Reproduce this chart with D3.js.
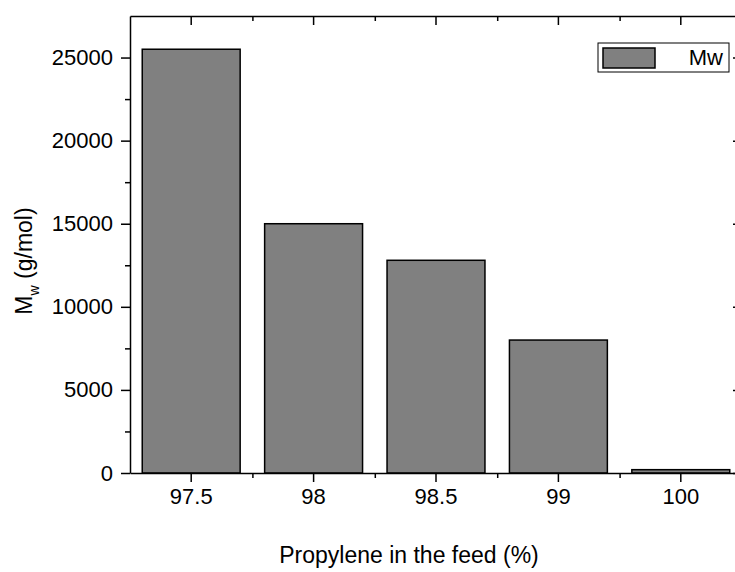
<!DOCTYPE html>
<html>
<head>
<meta charset="utf-8">
<script src="https://cdn.jsdelivr.net/npm/d3@7"></script>
<style>
  body { margin: 0; background: #fff; }
  svg { display: block; font-family: "Liberation Sans", Arial, sans-serif; }
  .axis path, .axis line { stroke: #000; stroke-width: 1.5; }
  .axis text { fill: #000; font-size: 22px; font-family: "Liberation Sans", Arial, sans-serif; }
</style>
</head>
<body>
<svg id="canvas" width="735" height="572"></svg>
<script>
// values
let categories = ['97.5', '98', '98.5', '99', '100'];
let mwValues = [25500, 15000, 12800, 8000, 200];
let yTicks = [0, 5000, 10000, 15000, 20000, 25000];
let yMinorTicks = [2500, 7500, 12500, 17500, 22500];
let seriesName = 'Mw';

let canvas = d3.select('#canvas');

let plotLeft = 130, plotRight = 742, plotTop = 16, plotBottom = 473;

let xScale = d3.scaleBand()
  .domain(categories)
  .range([plotLeft, plotRight])
  .paddingInner(0.2)
  .paddingOuter(0.1);

// index scale, used for the minor ticks between the groups
let xIndex = d3.scaleLinear()
  .domain([0, categories.length])
  .range([plotLeft, plotRight]);

let yScale = d3.scaleLinear()
  .domain([0, 27500])
  .range([plotBottom, plotTop]);

// bars
canvas.selectAll('rect.bar')
  .data(mwValues)
  .enter()
  .append('rect')
  .attr('class', 'bar')
  .attr('x', (d, i) => xScale(categories[i]))
  .attr('y', (d) => yScale(d))
  .attr('width', xScale.bandwidth())
  .attr('height', (d) => yScale(0) - yScale(d))
  .attr('fill', '#808080')
  .attr('stroke', '#000')
  .attr('stroke-width', 1.5);

let minorIdx = d3.range(1, categories.length);

// bottom axis
canvas.append('g')
  .attr('class', 'axis')
  .attr('transform', 'translate(0,' + plotBottom + ')')
  .call(d3.axisBottom(xScale).tickSizeInner(9).tickSizeOuter(0).tickPadding(6));
canvas.append('g')
  .attr('class', 'axis')
  .attr('transform', 'translate(0,' + plotBottom + ')')
  .call(d3.axisBottom(xIndex).tickValues(minorIdx).tickFormat('').tickSizeInner(5).tickSizeOuter(0))
  .call(g => g.select('.domain').remove());

// top axis
canvas.append('g')
  .attr('class', 'axis')
  .attr('transform', 'translate(0,' + plotTop + ')')
  .call(d3.axisTop(xScale).tickFormat('').tickSizeInner(-9).tickSizeOuter(0));
canvas.append('g')
  .attr('class', 'axis')
  .attr('transform', 'translate(0,' + plotTop + ')')
  .call(d3.axisTop(xIndex).tickValues(minorIdx).tickFormat('').tickSizeInner(-5).tickSizeOuter(0))
  .call(g => g.select('.domain').remove());

// left axis
canvas.append('g')
  .attr('class', 'axis')
  .attr('transform', 'translate(' + plotLeft + ',0)')
  .call(d3.axisLeft(yScale).tickValues(yTicks).tickFormat(d3.format('d')).tickSizeInner(9).tickSizeOuter(0).tickPadding(8));
canvas.append('g')
  .attr('class', 'axis')
  .attr('transform', 'translate(' + plotLeft + ',0)')
  .call(d3.axisLeft(yScale).tickValues(yMinorTicks).tickFormat('').tickSizeInner(5).tickSizeOuter(0))
  .call(g => g.select('.domain').remove());

// right axis
canvas.append('g')
  .attr('class', 'axis')
  .attr('transform', 'translate(' + plotRight + ',0)')
  .call(d3.axisRight(yScale).tickValues(yTicks).tickFormat('').tickSizeInner(-9).tickSizeOuter(0));
canvas.append('g')
  .attr('class', 'axis')
  .attr('transform', 'translate(' + plotRight + ',0)')
  .call(d3.axisRight(yScale).tickValues(yMinorTicks).tickFormat('').tickSizeInner(-5).tickSizeOuter(0))
  .call(g => g.select('.domain').remove());

// axis titles
canvas.append('text')
  .attr('x', 409)
  .attr('y', 563)
  .attr('text-anchor', 'middle')
  .attr('font-size', 23)
  .text('Propylene in the feed (%)');

let yTitle = canvas.append('text')
  .attr('transform', 'translate(32,261) rotate(-90)')
  .attr('text-anchor', 'middle')
  .attr('font-size', 23);
yTitle.append('tspan').text('M');
yTitle.append('tspan').attr('font-size', 14).attr('dy', 7).text('w');
yTitle.append('tspan').attr('dy', -7).text(' (g/mol)');

// legend
let legend = canvas.append('g');
legend.append('rect')
  .attr('x', 598).attr('y', 43)
  .attr('width', 131).attr('height', 29)
  .attr('fill', '#fff').attr('stroke', '#000').attr('stroke-width', 1);
legend.append('rect')
  .attr('x', 603).attr('y', 48)
  .attr('width', 52).attr('height', 20)
  .attr('fill', '#808080').attr('stroke', '#000').attr('stroke-width', 1.5);
legend.append('text')
  .attr('x', 723).attr('y', 65)
  .attr('text-anchor', 'end')
  .attr('font-size', 22)
  .text(seriesName);
</script>
</body>
</html>
